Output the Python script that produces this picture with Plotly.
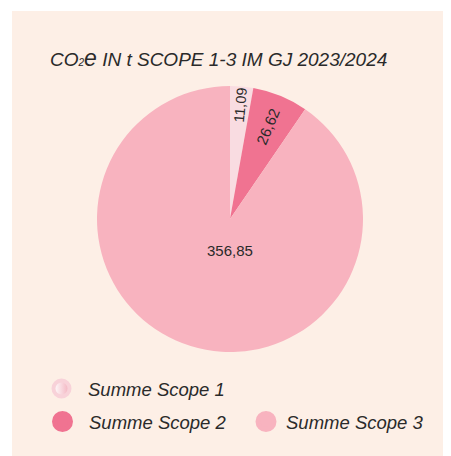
import plotly.graph_objects as go

categories = ["Summe Scope 1", "Summe Scope 2", "Summe Scope 3"]
values = [11.09, 26.62, 356.85]
value_labels = ["11,09", "26,62", "356,85"]
colors = ["#f9dce1", "#f07391", "#f8b3bf"]

# page body has an 8px margin; figure sized so it fits the window
OFF = 8
W, H = 443, 448
panel = "#fdefe6"
font_family = "Liberation Sans, Arial, sans-serif"


def px(x):
    return (x - OFF) / W


def py(y):
    return 1 - (y - OFF) / H


pie_dom = dict(x=[px(97), px(363)], y=[py(352), py(86)])

fig = go.Figure()

# small slices carry radial labels; large slice label placed near centre
small_text = [t if i < 2 else "" for i, t in enumerate(value_labels)]
fig.add_trace(go.Pie(
    labels=categories,
    values=values,
    text=small_text,
    textinfo="text",
    hoverinfo="label+value",
    sort=False,
    direction="clockwise",
    rotation=0,
    marker=dict(colors=colors, line=dict(width=0)),
    textposition="inside",
    insidetextorientation="radial",
    textfont=dict(size=15, color="#2a2a2a", family=font_family),
    domain=pie_dom,
    showlegend=False,
))

# legend entries (circle markers), one legend per entry
legend_ids = ["legend", "legend2", "legend3"]
for i, (cat, col) in enumerate(zip(categories, colors)):
    if i == 0:
        marker = dict(color="#ffffff", size=22, symbol="circle",
                      line=dict(width=4, color="#f8d2d9"),
                      gradient=dict(type="horizontal", color="#f2b0bd"))
    else:
        marker = dict(color=col, size=22, symbol="circle",
                      line=dict(width=5, color=col))
    fig.add_trace(go.Scatter(
        x=[None], y=[None], mode="markers", name=cat,
        marker=marker, legend=legend_ids[i], showlegend=True,
    ))

legend_font = dict(size=18.5, color="#2a2a2a", family=font_family, style="italic")
legend_common = dict(xanchor="left", yanchor="middle", orientation="h",
                     bgcolor="rgba(0,0,0,0)", itemsizing="trace", font=legend_font)

fig.update_layout(
    width=W, height=H,
    margin=dict(l=0, r=0, t=0, b=0),
    paper_bgcolor="#ffffff",
    plot_bgcolor="rgba(0,0,0,0)",
    xaxis=dict(visible=False, range=[0, 1]),
    yaxis=dict(visible=False, range=[0, 1]),
    shapes=[dict(type="rect", xref="paper", yref="paper",
                 x0=px(12), x1=1.0, y0=0, y1=py(11),
                 fillcolor=panel, line=dict(width=0), layer="below")],
    annotations=[
        dict(
            text="CO<span style='font-size:10px'>2</span><span style='font-size:23px'>e</span>"
                 " IN t SCOPE 1-3 IM GJ 2023/2024",
            xref="paper", yref="paper", x=px(48), y=py(58),
            xanchor="left", yanchor="middle", showarrow=False,
            font=dict(size=19, color="#2a2a2a", family=font_family, style="italic"),
        ),
        dict(
            text=value_labels[2],
            xref="paper", yref="paper",
            x=(pie_dom["x"][0] + pie_dom["x"][1]) / 2,
            y=(pie_dom["y"][0] + pie_dom["y"][1]) / 2 - 31 / H,
            xanchor="center", yanchor="middle", showarrow=False,
            font=dict(size=15, color="#2a2a2a", family=font_family),
        ),
    ],
    legend=dict(x=px(35), y=py(389), itemwidth=43, **legend_common),
    legend2=dict(x=px(36), y=py(422), itemwidth=43, **legend_common),
    legend3=dict(x=px(246), y=py(422), itemwidth=30, **legend_common),
)

fig.write_html("out.html")
